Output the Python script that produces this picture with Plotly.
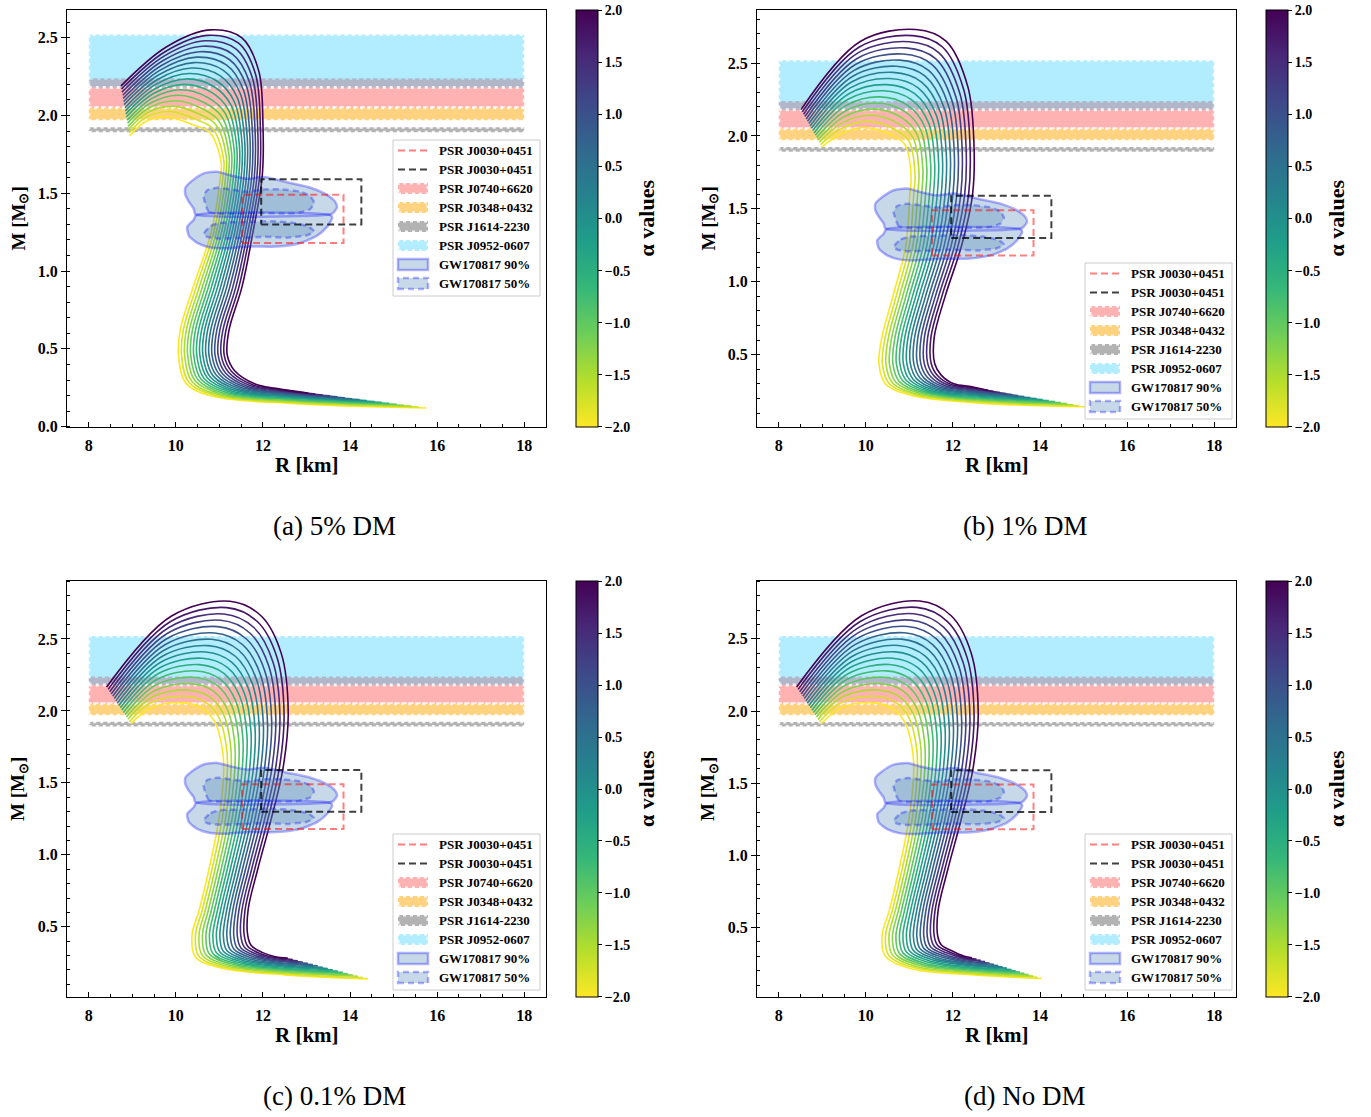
import plotly.graph_objects as go
from plotly.colors import sample_colorscale

W, H = 1371, 1117
FONT = "Liberation Serif"

# ---------------- data ----------------
ALPHA = [-2.0, -1.75, -1.5, -1.25, -1.0, -0.75, -0.5, -0.25, 0.0,
         0.25, 0.5, 0.75, 1.0, 1.25, 1.5, 1.75, 2.0]

# Panel (a) 5% DM : curve stations (index 0 = alpha -2 ... 16 = alpha 2)
A_S0_R = [15.75, 15.58, 15.41, 15.24, 15.07, 14.90, 14.73, 14.56, 14.39, 14.22, 14.05, 13.88, 13.71, 13.54, 13.37, 13.20, 13.03]
A_S0_M = [0.120, 0.126, 0.132, 0.138, 0.144, 0.150, 0.156, 0.162, 0.168, 0.174, 0.180, 0.186, 0.192, 0.198, 0.204, 0.210, 0.216]
A_S1_R = [12.62, 12.60, 12.58, 12.56, 12.54, 12.52, 12.50, 12.48, 12.46, 12.44, 12.42, 12.40, 12.38, 12.36, 12.34, 12.32, 12.30]
A_S1_M = [0.150, 0.156, 0.162, 0.168, 0.174, 0.180, 0.186, 0.192, 0.198, 0.204, 0.210, 0.216, 0.222, 0.228, 0.234, 0.240, 0.246]
A_S2_R = [10.86, 10.92, 10.98, 11.04, 11.10, 11.16, 11.22, 11.28, 11.34, 11.40, 11.46, 11.52, 11.58, 11.64, 11.70, 11.76, 11.82]
A_S2_M = [0.195, 0.200, 0.205, 0.210, 0.215, 0.220, 0.225, 0.230, 0.235, 0.240, 0.245, 0.250, 0.255, 0.260, 0.265, 0.270, 0.275]
A_S3_R = [10.23, 10.30, 10.37, 10.44, 10.51, 10.58, 10.65, 10.72, 10.79, 10.86, 10.93, 11.00, 11.07, 11.14, 11.21, 11.28, 11.35]
A_S3_M = [0.280, 0.285, 0.290, 0.295, 0.300, 0.305, 0.310, 0.315, 0.320, 0.325, 0.330, 0.335, 0.340, 0.345, 0.350, 0.355, 0.360]
A_MID_M = [0.46, 0.62, 0.90, 1.25, 1.60]
A_S4_R = [10.06, 10.13, 10.20, 10.27, 10.34, 10.41, 10.48, 10.55, 10.62, 10.69, 10.76, 10.83, 10.90, 10.97, 11.04, 11.11, 11.18]
A_S5_R = [10.10, 10.17, 10.24, 10.31, 10.38, 10.45, 10.52, 10.59, 10.66, 10.73, 10.80, 10.87, 10.94, 11.01, 11.08, 11.15, 11.22]
A_S6_R = [10.40, 10.47, 10.54, 10.61, 10.68, 10.75, 10.82, 10.89, 10.96, 11.03, 11.10, 11.17, 11.24, 11.31, 11.38, 11.45, 11.52]
A_S7_R = [10.81, 10.87, 10.93, 10.99, 11.05, 11.11, 11.17, 11.23, 11.29, 11.35, 11.41, 11.47, 11.53, 11.59, 11.65, 11.71, 11.77]
A_S8_R = [11.02, 11.08, 11.14, 11.20, 11.26, 11.32, 11.38, 11.44, 11.50, 11.56, 11.62, 11.68, 11.74, 11.80, 11.86, 11.92, 11.98]
A_S9_R = [11.04, 11.10, 11.16, 11.22, 11.28, 11.34, 11.40, 11.46, 11.52, 11.58, 11.64, 11.70, 11.76, 11.82, 11.88, 11.94, 12.00]
A_S9_M = [1.700, 1.715, 1.730, 1.745, 1.760, 1.775, 1.790, 1.805, 1.820, 1.835, 1.850, 1.865, 1.880, 1.895, 1.910, 1.925, 1.940]
A_S10_R = [10.78, 10.85, 10.92, 10.99, 11.06, 11.13, 11.20, 11.27, 11.34, 11.41, 11.48, 11.55, 11.62, 11.69, 11.76, 11.83, 11.90]
A_S10_M = [1.890, 1.915, 1.940, 1.965, 1.990, 2.015, 2.040, 2.065, 2.090, 2.115, 2.140, 2.165, 2.190, 2.215, 2.240, 2.265, 2.290]
A_S11_R = [10.39, 10.46, 10.53, 10.60, 10.67, 10.74, 10.81, 10.88, 10.95, 11.02, 11.09, 11.16, 11.23, 11.30, 11.37, 11.44, 11.51]
A_S11_M = [1.940, 1.975, 2.010, 2.045, 2.080, 2.115, 2.150, 2.185, 2.220, 2.255, 2.290, 2.325, 2.360, 2.395, 2.430, 2.465, 2.500]
A_S12_R = [9.82, 9.88, 9.94, 10.00, 10.06, 10.12, 10.18, 10.24, 10.30, 10.36, 10.42, 10.48, 10.54, 10.60, 10.66, 10.72, 10.78]
A_S12_M = [1.990, 2.025, 2.060, 2.095, 2.130, 2.165, 2.200, 2.235, 2.270, 2.305, 2.340, 2.375, 2.410, 2.445, 2.480, 2.515, 2.550]
A_S13_R = [9.30, 9.33, 9.36, 9.39, 9.42, 9.45, 9.48, 9.51, 9.54, 9.57, 9.60, 9.63, 9.66, 9.69, 9.72, 9.75, 9.78]
A_S13_M = [1.960, 1.990, 2.020, 2.050, 2.080, 2.110, 2.140, 2.170, 2.200, 2.230, 2.260, 2.290, 2.320, 2.350, 2.380, 2.410, 2.440]
A_S14_R = [8.94, 8.93, 8.91, 8.90, 8.89, 8.88, 8.86, 8.85, 8.84, 8.83, 8.81, 8.80, 8.79, 8.78, 8.76, 8.75, 8.74]
A_S14_M = [1.870, 1.890, 1.910, 1.930, 1.950, 1.970, 1.990, 2.010, 2.030, 2.050, 2.070, 2.090, 2.110, 2.130, 2.150, 2.170, 2.190]

# Panel (b) 1% DM
B_S0_R = [15.04, 14.90, 14.76, 14.62, 14.48, 14.34, 14.20, 14.06, 13.92, 13.78, 13.64, 13.50, 13.36, 13.22, 13.08, 12.94, 12.80]
B_S0_M = [0.143, 0.150, 0.157, 0.164, 0.171, 0.178, 0.185, 0.192, 0.199, 0.206, 0.213, 0.220, 0.227, 0.234, 0.241, 0.248, 0.255]
B_S1_R = [12.60, 12.59, 12.58, 12.57, 12.56, 12.55, 12.54, 12.53, 12.52, 12.51, 12.50, 12.49, 12.48, 12.47, 12.46, 12.45, 12.44]
B_S1_M = [0.168, 0.175, 0.182, 0.189, 0.196, 0.203, 0.210, 0.217, 0.224, 0.231, 0.238, 0.245, 0.252, 0.259, 0.266, 0.273, 0.280]
B_S2_R = [11.06, 11.12, 11.18, 11.24, 11.30, 11.36, 11.42, 11.48, 11.54, 11.60, 11.66, 11.72, 11.78, 11.84, 11.90, 11.96, 12.02]
B_S2_M = [0.220, 0.225, 0.230, 0.235, 0.240, 0.245, 0.250, 0.255, 0.260, 0.265, 0.270, 0.275, 0.280, 0.285, 0.290, 0.295, 0.300]
B_S3_R = [10.45, 10.53, 10.61, 10.69, 10.77, 10.85, 10.93, 11.01, 11.09, 11.17, 11.25, 11.33, 11.41, 11.49, 11.57, 11.65, 11.73]
B_S3_M = [0.300, 0.304, 0.308, 0.311, 0.315, 0.319, 0.323, 0.326, 0.330, 0.334, 0.338, 0.341, 0.345, 0.349, 0.353, 0.356, 0.360]
B_MID_M = [0.44, 0.62, 0.90, 1.25, 1.60]
B_S4_R = [10.30, 10.38, 10.46, 10.54, 10.62, 10.70, 10.78, 10.86, 10.94, 11.02, 11.10, 11.18, 11.26, 11.34, 11.42, 11.50, 11.58]
B_S5_R = [10.37, 10.445, 10.52, 10.595, 10.67, 10.745, 10.82, 10.895, 10.97, 11.045, 11.12, 11.195, 11.27, 11.345, 11.42, 11.495, 11.57]
B_S6_R = [10.62, 10.695, 10.77, 10.845, 10.92, 10.995, 11.07, 11.145, 11.22, 11.295, 11.37, 11.445, 11.52, 11.595, 11.67, 11.745, 11.82]
B_S7_R = [10.92, 11.00, 11.08, 11.16, 11.24, 11.32, 11.40, 11.48, 11.56, 11.64, 11.72, 11.80, 11.88, 11.96, 12.04, 12.12, 12.20]
B_S8_R = [11.01, 11.10, 11.19, 11.28, 11.37, 11.46, 11.55, 11.64, 11.73, 11.82, 11.91, 12.00, 12.09, 12.18, 12.27, 12.36, 12.45]
B_S9_R = [11.04, 11.13, 11.22, 11.31, 11.40, 11.49, 11.58, 11.67, 11.76, 11.85, 11.94, 12.03, 12.12, 12.21, 12.30, 12.39, 12.48]
B_S9_M = [1.720, 1.735, 1.750, 1.765, 1.780, 1.795, 1.810, 1.825, 1.840, 1.855, 1.870, 1.885, 1.900, 1.915, 1.930, 1.945, 1.960]
B_S10_R = [10.90, 10.99, 11.08, 11.17, 11.26, 11.35, 11.44, 11.53, 11.62, 11.71, 11.80, 11.89, 11.98, 12.07, 12.16, 12.25, 12.34]
B_S10_M = [1.940, 1.965, 1.990, 2.015, 2.040, 2.065, 2.090, 2.115, 2.140, 2.165, 2.190, 2.215, 2.240, 2.265, 2.290, 2.315, 2.340]
B_S11_R = [10.56, 10.64, 10.72, 10.80, 10.88, 10.96, 11.04, 11.12, 11.20, 11.28, 11.36, 11.44, 11.52, 11.60, 11.68, 11.76, 11.84]
B_S11_M = [2.010, 2.050, 2.090, 2.130, 2.170, 2.210, 2.250, 2.290, 2.330, 2.370, 2.410, 2.450, 2.490, 2.530, 2.570, 2.610, 2.650]
B_S12_R = [9.95, 10.025, 10.10, 10.175, 10.25, 10.325, 10.40, 10.475, 10.55, 10.625, 10.70, 10.775, 10.85, 10.925, 11.00, 11.075, 11.15]
B_S12_M = [2.058, 2.100, 2.142, 2.184, 2.226, 2.268, 2.310, 2.352, 2.394, 2.436, 2.478, 2.520, 2.562, 2.604, 2.646, 2.688, 2.730]
B_S13_R = [9.40, 9.43, 9.46, 9.49, 9.52, 9.55, 9.58, 9.61, 9.64, 9.67, 9.70, 9.73, 9.76, 9.79, 9.82, 9.85, 9.88]
B_S13_M = [2.010, 2.050, 2.090, 2.130, 2.170, 2.210, 2.250, 2.290, 2.330, 2.370, 2.410, 2.450, 2.490, 2.530, 2.570, 2.610, 2.650]
B_S14_R = [8.99, 8.96, 8.93, 8.90, 8.87, 8.84, 8.81, 8.78, 8.75, 8.72, 8.69, 8.66, 8.63, 8.60, 8.57, 8.54, 8.51]
B_S14_M = [1.925, 1.941, 1.957, 1.973, 1.989, 2.005, 2.021, 2.037, 2.053, 2.069, 2.085, 2.101, 2.117, 2.133, 2.149, 2.165, 2.181]

# Panels (c) 0.1% DM and (d) No DM : upper parts are indistinguishable
CD_MID_M = [0.44, 0.62, 0.90, 1.25, 1.60]
CD_S4_R = [10.37, 10.45, 10.53, 10.61, 10.69, 10.77, 10.85, 10.93, 11.01, 11.09, 11.17, 11.25, 11.33, 11.41, 11.49, 11.57, 11.65]
CD_S5_R = [10.54, 10.61, 10.68, 10.75, 10.82, 10.89, 10.96, 11.03, 11.10, 11.17, 11.24, 11.31, 11.38, 11.45, 11.52, 11.59, 11.66]
CD_S6_R = [10.76, 10.83, 10.90, 10.97, 11.04, 11.11, 11.18, 11.25, 11.32, 11.39, 11.46, 11.53, 11.60, 11.67, 11.74, 11.81, 11.88]
CD_S7_R = [10.99, 11.065, 11.14, 11.215, 11.29, 11.365, 11.44, 11.515, 11.59, 11.665, 11.74, 11.815, 11.89, 11.965, 12.04, 12.115, 12.19]
CD_S8_R = [11.10, 11.185, 11.27, 11.355, 11.44, 11.525, 11.61, 11.695, 11.78, 11.865, 11.95, 12.035, 12.12, 12.205, 12.29, 12.375, 12.46]
CD_S9_R = [11.06, 11.155, 11.25, 11.345, 11.44, 11.535, 11.63, 11.725, 11.82, 11.915, 12.01, 12.105, 12.20, 12.295, 12.39, 12.485, 12.58]
CD_S9_M = [1.750, 1.765, 1.780, 1.795, 1.810, 1.825, 1.840, 1.855, 1.870, 1.885, 1.900, 1.915, 1.930, 1.945, 1.960, 1.975, 1.990]
CD_S10_R = [10.90, 10.995, 11.09, 11.185, 11.28, 11.375, 11.47, 11.565, 11.66, 11.755, 11.85, 11.945, 12.04, 12.135, 12.23, 12.325, 12.42]
CD_S10_M = [1.920, 1.950, 1.980, 2.010, 2.040, 2.070, 2.100, 2.130, 2.160, 2.190, 2.220, 2.250, 2.280, 2.310, 2.340, 2.370, 2.400]
CD_S11_R = [10.60, 10.685, 10.77, 10.855, 10.94, 11.025, 11.11, 11.195, 11.28, 11.365, 11.45, 11.535, 11.62, 11.705, 11.79, 11.875, 11.96]
CD_S11_M = [2.020, 2.060, 2.100, 2.140, 2.180, 2.220, 2.260, 2.300, 2.340, 2.380, 2.420, 2.460, 2.500, 2.540, 2.580, 2.620, 2.660]
CD_S12_R = [10.12, 10.19, 10.26, 10.33, 10.40, 10.47, 10.54, 10.61, 10.68, 10.75, 10.82, 10.89, 10.96, 11.03, 11.10, 11.17, 11.24]
CD_S12_M = [2.058, 2.102, 2.146, 2.190, 2.234, 2.278, 2.322, 2.366, 2.410, 2.454, 2.498, 2.542, 2.586, 2.630, 2.674, 2.718, 2.762]
CD_S13_R = [9.42, 9.45, 9.48, 9.51, 9.54, 9.57, 9.60, 9.63, 9.66, 9.69, 9.72, 9.75, 9.78, 9.81, 9.84, 9.87, 9.90]
CD_S13_M = [2.020, 2.060, 2.100, 2.140, 2.180, 2.220, 2.260, 2.300, 2.340, 2.380, 2.420, 2.460, 2.500, 2.540, 2.580, 2.620, 2.660]
CD_S14_R = [8.97, 8.935, 8.90, 8.865, 8.83, 8.795, 8.76, 8.725, 8.69, 8.655, 8.62, 8.585, 8.55, 8.515, 8.48, 8.445, 8.41]
CD_S14_M = [1.910, 1.926, 1.942, 1.958, 1.974, 1.990, 2.006, 2.022, 2.038, 2.054, 2.070, 2.086, 2.102, 2.118, 2.134, 2.150, 2.166]

# Panel (c) low-mass tail
C_S0_R = [14.41, 14.295, 14.18, 14.065, 13.95, 13.835, 13.72, 13.605, 13.49, 13.375, 13.26, 13.145, 13.03, 12.915, 12.80, 12.685, 12.57]
C_S0_M = [0.138, 0.147, 0.156, 0.165, 0.174, 0.183, 0.192, 0.201, 0.210, 0.219, 0.228, 0.237, 0.246, 0.255, 0.264, 0.273, 0.282]
C_S1_R = [12.50, 12.485, 12.47, 12.455, 12.44, 12.425, 12.41, 12.395, 12.38, 12.365, 12.35, 12.335, 12.32, 12.305, 12.29, 12.275, 12.26]
C_S1_M = [0.166, 0.174, 0.182, 0.190, 0.198, 0.206, 0.214, 0.222, 0.230, 0.238, 0.246, 0.254, 0.262, 0.270, 0.278, 0.286, 0.294]
C_S2_R = [11.10, 11.155, 11.21, 11.265, 11.32, 11.375, 11.43, 11.485, 11.54, 11.595, 11.65, 11.705, 11.76, 11.815, 11.87, 11.925, 11.98]
C_S2_M = [0.210, 0.217, 0.224, 0.231, 0.238, 0.245, 0.252, 0.259, 0.266, 0.273, 0.280, 0.287, 0.294, 0.301, 0.308, 0.315, 0.322]
C_S3_R = [10.45, 10.53, 10.61, 10.69, 10.77, 10.85, 10.93, 11.01, 11.09, 11.17, 11.25, 11.33, 11.41, 11.49, 11.57, 11.65, 11.73]
C_S3_M = [0.290, 0.295, 0.300, 0.305, 0.310, 0.315, 0.320, 0.325, 0.330, 0.335, 0.340, 0.345, 0.350, 0.355, 0.360, 0.365, 0.370]

# Panel (d) low-mass tail
D_S0_R = [14.04, 13.94, 13.84, 13.74, 13.64, 13.54, 13.44, 13.34, 13.24, 13.14, 13.04, 12.94, 12.84, 12.74, 12.64, 12.54, 12.44]
D_S0_M = [0.146, 0.155, 0.164, 0.173, 0.182, 0.191, 0.200, 0.209, 0.218, 0.227, 0.236, 0.245, 0.254, 0.263, 0.272, 0.281, 0.290]
D_S1_R = [12.42, 12.41, 12.40, 12.39, 12.38, 12.37, 12.36, 12.35, 12.34, 12.33, 12.32, 12.31, 12.30, 12.29, 12.28, 12.27, 12.26]
D_S1_M = [0.172, 0.180, 0.188, 0.196, 0.204, 0.212, 0.220, 0.228, 0.236, 0.244, 0.252, 0.260, 0.268, 0.276, 0.284, 0.292, 0.300]
D_S2_R = [11.08, 11.135, 11.19, 11.245, 11.30, 11.355, 11.41, 11.465, 11.52, 11.575, 11.63, 11.685, 11.74, 11.795, 11.85, 11.905, 11.96]
D_S2_M = [0.212, 0.220, 0.228, 0.236, 0.244, 0.252, 0.260, 0.268, 0.276, 0.284, 0.292, 0.300, 0.308, 0.316, 0.324, 0.332, 0.340]
D_S3_R = [10.45, 10.53, 10.61, 10.69, 10.77, 10.85, 10.93, 11.01, 11.09, 11.17, 11.25, 11.33, 11.41, 11.49, 11.57, 11.65, 11.73]
D_S3_M = [0.300, 0.305, 0.310, 0.315, 0.320, 0.325, 0.330, 0.335, 0.340, 0.345, 0.350, 0.355, 0.360, 0.365, 0.370, 0.375, 0.380]

# Pulsar mass bands (M_sun), spanning R = 8..18 km
BAND_NAMES = ["PSR J0740+6620", "PSR J0348+0432", "PSR J1614-2230", "PSR J0952-0607"]
BAND_LO = [2.05, 1.97, 1.892, 2.18]
BAND_HI = [2.24, 2.05, 1.924, 2.52]
BAND_R = [8.0, 18.0]

# NICER J0030+0451 boxes
NICER_NAMES = ["PSR J0030+0451", "PSR J0030+0451"]
NICER_R = [[11.52, 13.85], [11.96, 14.26]]
NICER_M = [[1.18, 1.49], [1.30, 1.59]]

# GW170817 contours
GW_NAMES = ["GW170817 90%", "GW170817 50%"]
GW90_UP_R = [10.45, 10.41, 10.30, 10.22, 10.22, 10.37, 10.64, 10.95, 11.25, 11.63, 12.02, 12.55, 13.09, 13.47, 13.66, 13.70, 13.62, 13.55, 10.45]
GW90_UP_M = [1.365, 1.40, 1.445, 1.49, 1.536, 1.58, 1.628, 1.639, 1.616, 1.593, 1.605, 1.571, 1.536, 1.49, 1.445, 1.41, 1.376, 1.365, 1.365]
GW90_LO_R = [10.47, 13.55, 13.59, 13.47, 13.24, 12.86, 12.32, 11.71, 11.18, 10.79, 10.49, 10.30, 10.26, 10.41, 10.47]
GW90_LO_M = [1.36, 1.36, 1.342, 1.284, 1.227, 1.181, 1.158, 1.158, 1.147, 1.152, 1.181, 1.227, 1.284, 1.33, 1.36]
GW50_UP_R = [10.95, 10.76, 10.68, 10.64, 10.72, 10.95, 11.25, 11.63, 12.02, 12.44, 12.86, 13.09, 13.17, 13.09, 12.82, 12.40, 11.90, 11.40, 10.95]
GW50_UP_M = [1.37, 1.38, 1.43, 1.48, 1.52, 1.535, 1.525, 1.51, 1.525, 1.525, 1.51, 1.48, 1.44, 1.40, 1.375, 1.37, 1.375, 1.37, 1.37]
GW50_LO_R = [10.64, 10.80, 11.02, 11.63, 12.20, 12.70, 13.05, 13.17, 13.01, 12.55, 12.02, 11.40, 10.95, 10.72, 10.64]
GW50_LO_M = [1.24, 1.29, 1.31, 1.315, 1.32, 1.31, 1.285, 1.255, 1.23, 1.215, 1.22, 1.212, 1.21, 1.22, 1.24]

CAPTIONS = ["(a) 5% DM", "(b) 1% DM", "(c) 0.1% DM", "(d) No DM"]
CB_TICKS = [-2.0, -1.5, -1.0, -0.5, 0.0, 0.5, 1.0, 1.5, 2.0]
CB_LABELS = ["−2.0", "−1.5", "−1.0", "−0.5", "0.0", "0.5", "1.0", "1.5", "2.0"]

CURVES = [
    dict(tail_r=[A_S0_R, A_S1_R, A_S2_R, A_S3_R], tail_m=[A_S0_M, A_S1_M, A_S2_M, A_S3_M],
         mid_r=[A_S4_R, A_S5_R, A_S6_R, A_S7_R, A_S8_R], mid_m=A_MID_M,
         up_r=[A_S9_R, A_S10_R, A_S11_R, A_S12_R, A_S13_R, A_S14_R],
         up_m=[A_S9_M, A_S10_M, A_S11_M, A_S12_M, A_S13_M, A_S14_M]),
    dict(tail_r=[B_S0_R, B_S1_R, B_S2_R, B_S3_R], tail_m=[B_S0_M, B_S1_M, B_S2_M, B_S3_M],
         mid_r=[B_S4_R, B_S5_R, B_S6_R, B_S7_R, B_S8_R], mid_m=B_MID_M,
         up_r=[B_S9_R, B_S10_R, B_S11_R, B_S12_R, B_S13_R, B_S14_R],
         up_m=[B_S9_M, B_S10_M, B_S11_M, B_S12_M, B_S13_M, B_S14_M]),
    dict(tail_r=[C_S0_R, C_S1_R, C_S2_R, C_S3_R], tail_m=[C_S0_M, C_S1_M, C_S2_M, C_S3_M],
         mid_r=[CD_S4_R, CD_S5_R, CD_S6_R, CD_S7_R, CD_S8_R], mid_m=CD_MID_M,
         up_r=[CD_S9_R, CD_S10_R, CD_S11_R, CD_S12_R, CD_S13_R, CD_S14_R],
         up_m=[CD_S9_M, CD_S10_M, CD_S11_M, CD_S12_M, CD_S13_M, CD_S14_M]),
    dict(tail_r=[D_S0_R, D_S1_R, D_S2_R, D_S3_R], tail_m=[D_S0_M, D_S1_M, D_S2_M, D_S3_M],
         mid_r=[CD_S4_R, CD_S5_R, CD_S6_R, CD_S7_R, CD_S8_R], mid_m=CD_MID_M,
         up_r=[CD_S9_R, CD_S10_R, CD_S11_R, CD_S12_R, CD_S13_R, CD_S14_R],
         up_m=[CD_S9_M, CD_S10_M, CD_S11_M, CD_S12_M, CD_S13_M, CD_S14_M]),
]

# ---------------- styling / geometry (page pixels) ----------------
PANELS = [
    dict(x0=67, x1=546, y0=10, y1=427, yr=[-0.002, 2.678]),
    dict(x0=757, x1=1236, y0=10, y1=427, yr=[0.004, 2.864]),
    dict(x0=67, x1=546, y0=581, y1=997, yr=[0.012, 2.903]),
    dict(x0=757, x1=1236, y0=581, y1=997, yr=[0.018, 2.901]),
]
LEGEND_POS = [(393, 140), (1085, 263), (393, 834), (1085, 834)]
BAND_FILL = ["rgba(255,0,0,0.3)", "rgba(255,165,0,0.5)", "rgba(128,128,128,0.6)", "rgba(0,191,255,0.3)"]
BAND_EDGE = dict(color="rgba(255,255,255,0.85)", width=3, dash="3px,4px")
NICER_COL = ["rgba(255,0,0,0.5)", "rgba(0,0,0,0.75)"]
GW_FILL = "rgba(70,130,180,0.3)"
GW_LINE = "rgba(0,0,255,0.3)"
GW_DASH = ["solid", "6px,4px"]


def curve(cs, i):
    r = [s[i] for s in cs["tail_r"]] + [s[i] for s in cs["mid_r"]] + [s[i] for s in cs["up_r"]]
    m = [s[i] for s in cs["tail_m"]] + list(cs["mid_m"]) + [s[i] for s in cs["up_m"]]
    return r, m


def fx(px):
    return px / W


def fy(py):
    return 1 - py / H


fig = go.Figure()
annotations = []
shapes = []
tick_font = dict(family=FONT, size=16, color="black", weight="bold")

for k, p in enumerate(PANELS):
    sx = "x" if k == 0 else f"x{k+1}"
    sy = "y" if k == 0 else f"y{k+1}"

    # bands (behind)
    for j, name in enumerate(BAND_NAMES):
        fig.add_trace(go.Scatter(
            x=[BAND_R[0], BAND_R[1], BAND_R[1], BAND_R[0], BAND_R[0]],
            y=[BAND_LO[j], BAND_LO[j], BAND_HI[j], BAND_HI[j], BAND_LO[j]],
            mode="lines", fill="toself", fillcolor=BAND_FILL[j], line=BAND_EDGE,
            name=name, showlegend=False, hoverinfo="skip", xaxis=sx, yaxis=sy))

    # M-R curves
    cs = CURVES[k]
    for i, a in enumerate(ALPHA):
        r, m = curve(cs, i)
        col = sample_colorscale("Viridis", [1 - (a + 2) / 4])[0]
        fig.add_trace(go.Scatter(
            x=r, y=m, mode="lines", line=dict(color=col, width=1.6, shape="spline", smoothing=1.0),
            showlegend=False, hoverinfo="skip", xaxis=sx, yaxis=sy))

    # GW170817 contours
    fig.add_trace(go.Scatter(
        x=GW90_UP_R + [None] + GW90_LO_R, y=GW90_UP_M + [None] + GW90_LO_M,
        mode="lines", fill="toself", fillcolor=GW_FILL,
        line=dict(color=GW_LINE, width=2.5, shape="spline", smoothing=0.6),
        name=GW_NAMES[0], showlegend=False, hoverinfo="skip", xaxis=sx, yaxis=sy))
    fig.add_trace(go.Scatter(
        x=GW50_UP_R + [None] + GW50_LO_R, y=GW50_UP_M + [None] + GW50_LO_M,
        mode="lines", fill="toself", fillcolor=GW_FILL,
        line=dict(color=GW_LINE, width=2.5, dash=GW_DASH[1], shape="spline", smoothing=0.6),
        name=GW_NAMES[1], showlegend=False, hoverinfo="skip", xaxis=sx, yaxis=sy))

    # NICER boxes
    for j, name in enumerate(NICER_NAMES):
        r0, r1 = NICER_R[j]
        m0, m1 = NICER_M[j]
        fig.add_trace(go.Scatter(
            x=[r0, r1, r1, r0, r0], y=[m0, m0, m1, m1, m0], mode="lines",
            line=dict(color=NICER_COL[j], width=2, dash="7px,4px"),
            name=name, showlegend=False, hoverinfo="skip", xaxis=sx, yaxis=sy))

    # colorbar
    fig.add_trace(go.Scatter(
        x=[None], y=[None], mode="markers", showlegend=False, hoverinfo="skip",
        marker=dict(color=[0], colorscale="Viridis", reversescale=True, cmin=-2, cmax=2, showscale=True,
                    colorbar=dict(x=fx(p["x1"] + 30), xanchor="left", y=fy((p["y0"] + p["y1"]) / 2),
                                  yanchor="middle", len=(p["y1"] - p["y0"]) / H, lenmode="fraction",
                                  thickness=22, thicknessmode="pixels", outlinecolor="black",
                                  outlinewidth=1, tickmode="array",
                                  tickvals=[v * 0.9995 for v in CB_TICKS], ticktext=CB_LABELS,
                                  ticks="outside", ticklen=4, tickcolor="black", xpad=0, ypad=0,
                                  tickfont=dict(family=FONT, size=14, color="black", weight="bold"))),
        xaxis=sx, yaxis=sy))

    xa = "xaxis" if k == 0 else f"xaxis{k+1}"
    ya = "yaxis" if k == 0 else f"yaxis{k+1}"
    fig.layout[xa] = dict(
        domain=[fx(p["x0"]), fx(p["x1"])], range=[7.5, 18.5], anchor=sy,
        tick0=0, dtick=2, ticks="inside", ticklen=5, tickcolor="black",
        minor=dict(tick0=0, dtick=0.5, ticks="inside", ticklen=3, tickcolor="black"),
        showline=True, linecolor="black", linewidth=1, mirror=True, ticklabelstandoff=4,
        showgrid=False, zeroline=False, tickfont=tick_font, automargin=False)
    fig.layout[ya] = dict(
        domain=[fy(p["y1"]), fy(p["y0"])], range=p["yr"], anchor=sx,
        tick0=0, dtick=0.5, tickformat=".1f", ticks="outside", ticklen=5, tickcolor="black",
        minor=dict(tick0=0, dtick=0.1, ticks="inside", ticklen=3, tickcolor="black"),
        showline=True, linecolor="black", linewidth=1, mirror=True,
        showgrid=False, zeroline=False, tickfont=tick_font, automargin=False)

    # ---- legend box (drawn by hand, matplotlib style) ----
    L, T = LEGEND_POS[k]
    shapes.append(dict(type="rect", xref="paper", yref="paper", layer="above",
                       x0=fx(L), x1=fx(L + 147), y0=fy(T + 156), y1=fy(T),
                       fillcolor="rgba(255,255,255,0.85)", line=dict(color="#cccccc", width=1)))
    labels = NICER_NAMES + BAND_NAMES + GW_NAMES
    for row, lab in enumerate(labels):
        yc = T + 10.5 + 19 * row
        sx0, sx1 = L + 5, L + 35
        if row < 2:
            shapes.append(dict(type="line", xref="paper", yref="paper", layer="above",
                               x0=fx(sx0), x1=fx(sx1), y0=fy(yc), y1=fy(yc),
                               line=dict(color=NICER_COL[row], width=2, dash="7px,4px")))
        elif row < 6:
            j = row - 2
            shapes.append(dict(type="rect", xref="paper", yref="paper", layer="above",
                               x0=fx(sx0), x1=fx(sx1), y0=fy(yc + 5.5), y1=fy(yc - 5.5),
                               fillcolor=BAND_FILL[j], line=BAND_EDGE))
        else:
            j = row - 6
            shapes.append(dict(type="rect", xref="paper", yref="paper", layer="above",
                               x0=fx(sx0), x1=fx(sx1), y0=fy(yc + 5.5), y1=fy(yc - 5.5),
                               fillcolor=GW_FILL,
                               line=dict(color=GW_LINE, width=2.5, dash=GW_DASH[j])))
        annotations.append(dict(text=f"<b>{lab}</b>", x=fx(L + 44), y=fy(yc), xref="paper", yref="paper",
                                showarrow=False, xanchor="left", yanchor="middle",
                                font=dict(family=FONT, size=13, color="black")))

    cx = (p["x0"] + p["x1"]) / 2
    cyc = (p["y0"] + p["y1"]) / 2
    annotations += [
        dict(text="<b>R [km]</b>", x=fx(cx), y=fy(p["y1"] + 38), xref="paper", yref="paper",
             showarrow=False, font=dict(family=FONT, size=21, color="black"),
             xanchor="center", yanchor="middle"),
        dict(text="<b>M [M<sub>⊙</sub>]</b>", x=fx(p["x0"] - 48), y=fy(cyc), xref="paper", yref="paper",
             showarrow=False, font=dict(family=FONT, size=19, color="black"), textangle=-90,
             xanchor="center", yanchor="middle"),
        dict(text="<b>α values</b>", x=fx(p["x1"] + 100), y=fy(cyc), xref="paper", yref="paper",
             showarrow=False, font=dict(family=FONT, size=22, color="black"), textangle=-90,
             xanchor="center", yanchor="middle"),
        dict(text=CAPTIONS[k], x=fx(cx + 28), y=fy(p["y1"] + 99), xref="paper", yref="paper",
             showarrow=False, font=dict(family=FONT, size=27, color="black"),
             xanchor="center", yanchor="middle"),
    ]

fig.update_layout(
    width=W, height=H, autosize=False,
    margin=dict(l=0, r=0, t=0, b=0, pad=0),
    paper_bgcolor="white", plot_bgcolor="white",
    showlegend=False,
    annotations=annotations, shapes=shapes,
    font=dict(family=FONT, color="black"),
)

fig.write_html("out.html", config={"displayModeBar": False},
               post_script="document.body.style.margin='0px';")
